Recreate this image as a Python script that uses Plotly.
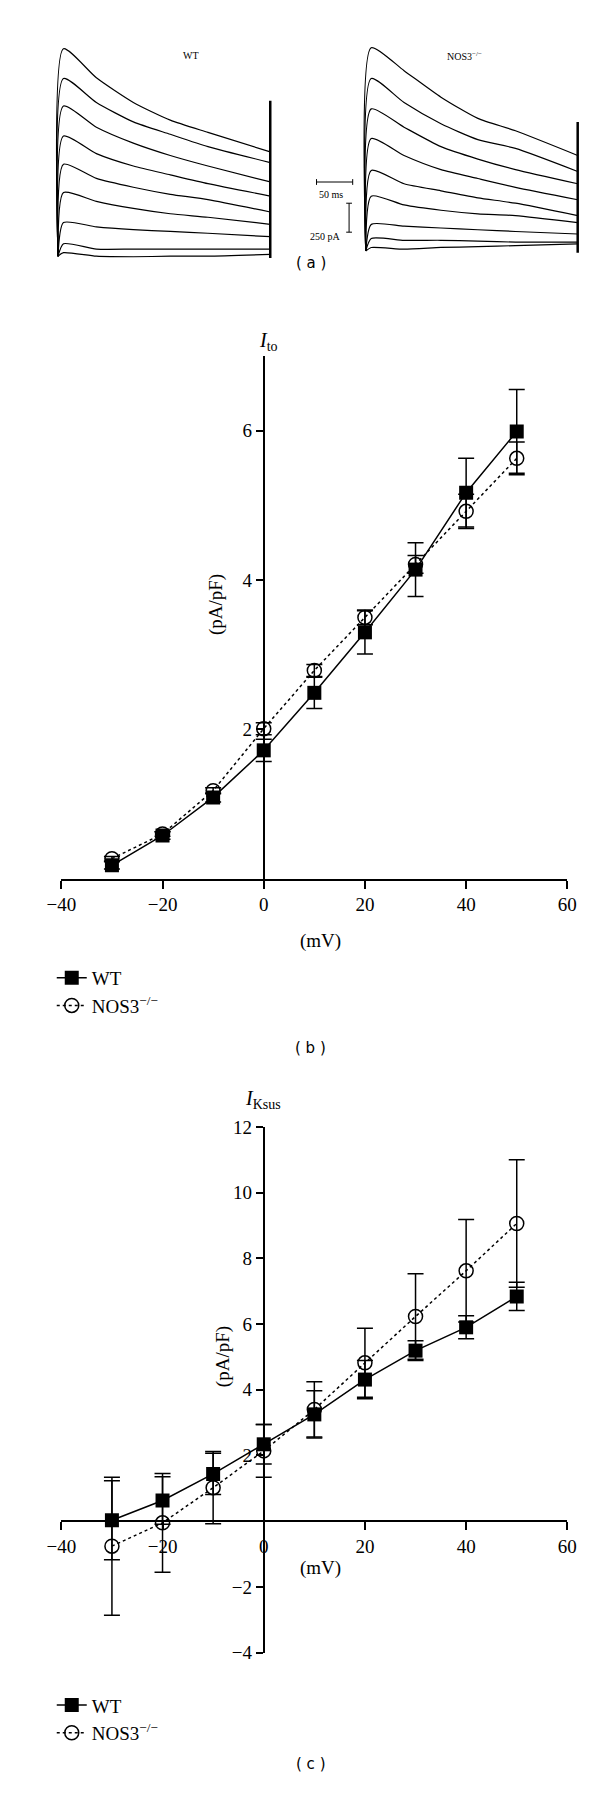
import plotly.graph_objects as go

W, H = 600, 1794
FONT = "Liberation Serif"

# panel (a): current traces, sampled by eye (ms, pA)
trace_t = [0, 7.6, 53, 104, 155, 207, 293]
wt_traces = [
    [0, 1790, 1540, 1327, 1174, 1068, 900],
    [0, 1534, 1327, 1159, 1052, 946, 808],
    [0, 1296, 1113, 976, 869, 778, 641],
    [0, 1037, 885, 778, 702, 626, 519],
    [0, 793, 671, 595, 534, 488, 381],
    [0, 549, 473, 412, 366, 336, 275],
    [0, 290, 253, 229, 214, 198, 168],
    [0, 107, 61, 61, 61, 61, 61],
    [0, 30, 0, -5, 0, 0, 15],
]
nos_traces = [
    [0, 1754, 1556, 1327, 1144, 1037, 824],
    [0, 1488, 1281, 1098, 961, 885, 686],
    [0, 1226, 1068, 900, 793, 702, 580],
    [0, 970, 824, 702, 625, 549, 442],
    [0, 695, 580, 519, 458, 412, 305],
    [0, 473, 397, 351, 320, 305, 244],
    [0, 229, 214, 198, 183, 168, 146],
    [0, 107, 92, 92, 85, 76, 76],
    [0, 30, 15, 30, 37, 46, 61],
]
wt_tail = [1342, -15]
nos_tail = [1113, -15]

# panels (b), (c)
mv = [-30, -20, -10, 0, 10, 20, 30, 40, 50]
ito_wt = [0.18, 0.58, 1.09, 1.72, 2.49, 3.30, 4.14, 5.17, 5.99]
ito_wt_err = [0.05, 0.05, 0.06, 0.15, 0.21, 0.29, 0.36, 0.46, 0.56]
ito_nos = [0.27, 0.60, 1.18, 2.01, 2.79, 3.50, 4.21, 4.92, 5.63]
ito_nos_err = [0.03, 0.03, 0.04, 0.08, 0.08, 0.10, 0.12, 0.23, 0.22]
ksus_wt = [0.03, 0.63, 1.44, 2.34, 3.25, 4.31, 5.19, 5.90, 6.84]
ksus_wt_err = [1.2, 0.72, 0.63, 0.6, 0.72, 0.58, 0.3, 0.35, 0.43]
ksus_nos = [-0.76, -0.05, 1.02, 2.14, 3.40, 4.82, 6.23, 7.62, 9.06]
ksus_nos_err = [2.1, 1.5, 1.1, 0.8, 0.84, 1.05, 1.3, 1.56, 1.94]


def px(x):
    return x / W


def py(y):
    return 1 - y / H


fig = go.Figure()

# ---- panel (a)
for name, traces, tail, xa, ya in [("WT", wt_traces, wt_tail, "x", "y"),
                                   ("NOS3", nos_traces, nos_tail, "x2", "y2")]:
    for tr in traces:
        fig.add_trace(go.Scatter(x=trace_t, y=tr, mode="lines", xaxis=xa, yaxis=ya,
                                 line=dict(color="black", width=1.2, shape="spline", smoothing=0.6),
                                 showlegend=False, hoverinfo="skip"))
    fig.add_trace(go.Scatter(x=[trace_t[-1], trace_t[-1]], y=tail, mode="lines", xaxis=xa, yaxis=ya,
                             line=dict(color="black", width=2.5), showlegend=False))

# scale bars on NOS3 axes
fig.add_trace(go.Scatter(x=[-68, -18], y=[595, 595], mode="lines", xaxis="x2", yaxis="y2",
                         line=dict(color="black", width=1), showlegend=False))
fig.add_trace(go.Scatter(x=[-23, -23], y=[162, 412], mode="lines", xaxis="x2", yaxis="y2",
                         line=dict(color="black", width=1), showlegend=False))
for yy in [162, 412]:
    fig.add_trace(go.Scatter(x=[-27, -19], y=[yy, yy], mode="lines", xaxis="x2", yaxis="y2",
                             line=dict(color="black", width=1), showlegend=False))
for xx in [-68, -18]:
    fig.add_trace(go.Scatter(x=[xx, xx], y=[570, 620], mode="lines", xaxis="x2", yaxis="y2",
                             line=dict(color="black", width=1), showlegend=False))

ms_px = 221.5 / 293
pa_px = 8.53
a_axes = dict(showgrid=False, zeroline=False, showticklabels=False, showline=False, ticks="")
fig.update_layout(
    xaxis=dict(range=[-5, 300], domain=[px(36.5 - 5 * ms_px), px(258 + 7 * ms_px)], anchor="y", **a_axes),
    yaxis=dict(range=[-100, 1900], domain=[py(241 + 100 / pa_px), py(241 - 1900 / pa_px)], anchor="x", **a_axes),
    xaxis2=dict(range=[-75, 300], domain=[px(357.7 - 75 * ms_px), px(578.8 + 7 * ms_px)], anchor="y2", **a_axes),
    yaxis2=dict(range=[-100, 1900], domain=[py(235.7 + 100 / pa_px), py(235.7 - 1900 / pa_px)], anchor="x2", **a_axes),
)

# ---- panels (b) and (c)
def add_iv(xa, ya, wt, wt_err, nos, nos_err, legend):
    fig.add_trace(go.Scatter(x=mv, y=wt, mode="lines+markers", name="WT", xaxis=xa, yaxis=ya,
                             legend=legend,
                             line=dict(color="black", width=1.5),
                             marker=dict(symbol="square", size=14, color="black"),
                             error_y=dict(type="data", array=wt_err, color="black", thickness=1.5, width=8)))
    fig.add_trace(go.Scatter(x=mv, y=nos, mode="lines+markers", name="NOS3<sup>−/−</sup>",
                             xaxis=xa, yaxis=ya, legend=legend,
                             line=dict(color="black", width=1.5, dash="dot"),
                             marker=dict(symbol="circle-open", size=14, color="black", line=dict(width=1.5)),
                             error_y=dict(type="data", array=nos_err, color="black", thickness=1.5, width=8)))


add_iv("x3", "y3", ito_wt, ito_wt_err, ito_nos, ito_nos_err, "legend")
add_iv("x4", "y4", ksus_wt, ksus_wt_err, ksus_nos, ksus_nos_err, "legend2")

tickfont = dict(family=FONT, size=19, color="black")
common_x = dict(range=[-40, 60], tickvals=[-40, -20, 0, 20, 40, 60], showgrid=False, zeroline=False,
                showline=True, linecolor="black", linewidth=1.5, ticks="outside", ticklen=8,
                tickwidth=1.5, tickcolor="black", tickfont=tickfont, domain=[px(40), px(568)])
common_y = dict(showgrid=False, zeroline=False, showline=True, linecolor="black", linewidth=1.5,
                ticks="outside", ticklen=7, tickwidth=1.5, tickcolor="black", tickfont=tickfont,
                anchor="free", position=px(251))
fig.update_layout(
    xaxis3=dict(anchor="y3", **common_x),
    yaxis3=dict(range=[0, 7], tickvals=[2, 4, 6], domain=[py(871), py(342)], **common_y),
    xaxis4=dict(anchor="free", position=py(1521), **common_x),
    yaxis4=dict(range=[-4, 12], tickvals=[-4, -2, 2, 4, 6, 8, 10, 12], domain=[py(1654), py(1122)],
                **common_y),
)

leg = dict(font=dict(family=FONT, size=19, color="black"), bgcolor="rgba(0,0,0,0)",
           xanchor="left", yanchor="top", tracegroupgap=0, itemwidth=30)
fig.update_layout(
    legend=dict(x=px(30), y=py(952), **leg),
    legend2=dict(x=px(30), y=py(1688), **leg),
)

ann = []


def text(x, y, s, size=19, angle=0, family=FONT):
    ann.append(dict(x=px(x), y=py(y), xref="paper", yref="paper", text=s, showarrow=False,
                    font=dict(family=family, size=size, color="black"), textangle=angle))


text(165, 30, "WT", size=10)
text(481, 30, "NOS3<sup>−/−</sup>", size=10)
text(321, 171, "50 ms", size=10)
text(316, 214, "250 pA", size=10)
text(300, 237, "( a )", size=15, family="DejaVu Sans")
text(256, 313, "<i>I</i><sub>to</sub>", size=20)
text(188, 561, "(pA/pF)", angle=-90)
text(310, 934, "(mV)")
text(300, 1042, "( b )", size=15, family="DejaVu Sans")
text(250, 1094, "<i>I</i><sub>Ksus</sub>", size=20)
text(195, 1387, "(pA/pF)", angle=-90)
text(310, 1582, "(mV)")
text(300, 1778, "( c )", size=15, family="DejaVu Sans")

fig.update_layout(annotations=ann, width=W, height=H, margin=dict(l=0, r=0, t=0, b=0),
                  plot_bgcolor="white", paper_bgcolor="white")
fig.write_html("out.html")
